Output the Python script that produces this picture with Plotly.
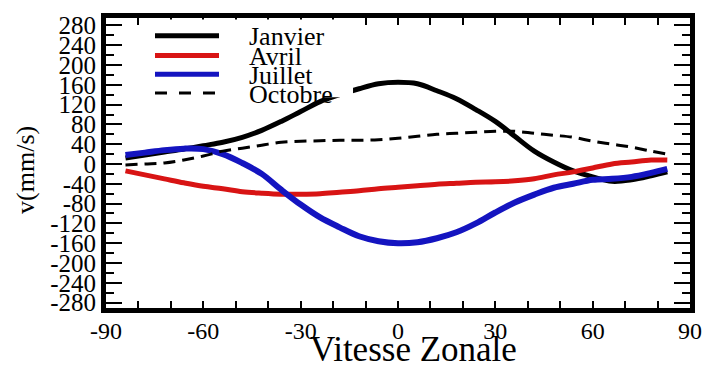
import plotly.graph_objects as go

# ---- data ----
lat = [-84, -78, -72, -66, -60, -54, -48, -42, -36, -30, -24, -18, -12, -6, 0,
       6, 12, 18, 24, 30, 36, 42, 48, 54, 60, 66, 72, 78, 83]

janvier = [12, 18, 24, 30, 37, 44, 54, 68, 86, 106, 126, 140, 152, 162, 165,
           162, 148, 132, 110, 86, 56, 26, 4, -14, -26, -35, -32, -24, -16]

avril = [-14, -22, -30, -38, -45, -50, -56, -59, -61, -61, -60, -57, -54, -50, -47,
         -44, -41, -39, -37, -36, -34, -30, -22, -16, -8, 0, 4, 8, 8]

juillet = [18, 23, 28, 31, 30, 20, 2, -20, -52, -82, -108, -128, -146, -156, -160,
           -158, -150, -138, -120, -98, -78, -62, -48, -40, -32, -30, -26, -18, -10]

octobre = [-2, 0, 2, 8, 16, 26, 32, 38, 44, 46, 47, 48, 48, 49, 52,
           56, 60, 62, 64, 66, 66, 62, 58, 54, 46, 40, 34, 26, 20]

names = ["Janvier", "Avril", "Juillet", "Octobre"]
series = [janvier, avril, juillet, octobre]
colors = ["#000000", "#d81414", "#1414c0", "#000000"]
widths = [5, 5, 6, 3]
dashes = ["solid", "solid", "solid", "12px,7px"]

x_ticks = [-90, -60, -30, 0, 30, 60, 90]
y_ticks = list(range(-280, 281, 40))

FONT = "Liberation Serif"

fig = go.Figure()
for n, s, c, w, d in zip(names, series, colors, widths, dashes):
    fig.add_trace(go.Scatter(x=lat, y=s, name=n, mode="lines",
                             line=dict(color=c, width=w, dash=d, shape="spline", smoothing=1.0),
                             showlegend=False))

# ---- manual legend (Grace-style) ----
shapes = [dict(type="rect", xref="paper", yref="paper", x0=0.058, x1=0.423, y0=0.727, y1=0.995,
               fillcolor="white", line=dict(width=0), layer="above")]
annotations = []
row_y = [0.9388, 0.8707, 0.8061, 0.7415]
for n, c, w, d, yy in zip(names, colors, widths, dashes, row_y):
    shapes.append(dict(type="line", xref="paper", yref="paper", x0=0.0839, x1=0.1935, y0=yy, y1=yy,
                       line=dict(color=c, width=5 if d == "solid" else 3,
                                 dash="solid" if d == "solid" else "12px,12px"),
                       layer="above"))
    annotations.append(dict(text=n, xref="paper", yref="paper", x=0.2414, y=yy - 0.004,
                            xanchor="left", yanchor="middle", showarrow=False,
                            font=dict(family=FONT, size=26, color="black")))

annotations.append(dict(text="Vitesse Zonale", xref="paper", yref="paper", x=0.527, y=-0.143,
                        xanchor="center", yanchor="middle", showarrow=False,
                        font=dict(family=FONT, size=35, color="black")))
annotations.append(dict(text="v(mm/s)", xref="paper", yref="paper", x=-0.137, y=0.476,
                        xanchor="center", yanchor="middle", showarrow=False, textangle=-90,
                        font=dict(family=FONT, size=26, color="black")))

fig.update_layout(
    width=714, height=376,
    margin=dict(l=106, r=24, t=14, b=68),
    paper_bgcolor="white", plot_bgcolor="white",
    shapes=shapes, annotations=annotations,
    font=dict(family=FONT, color="black"),
)
fig.update_xaxes(range=[-90, 90], tickvals=x_ticks, ticktext=[str(v) for v in x_ticks],
                 ticks="inside", ticklen=7, tickwidth=2, tickcolor="black",
                 minor=dict(dtick=10, tick0=0, ticks="inside", ticklen=7, tickwidth=2, tickcolor="black"),
                 showline=True, linewidth=5, linecolor="black", mirror="allticks",
                 showgrid=False, zeroline=False, ticklabelstandoff=-3,
                 tickfont=dict(family=FONT, size=24, color="black"))
fig.update_yaxes(range=[-291, 295], tickvals=y_ticks, ticktext=[str(v) for v in y_ticks],
                 ticks="inside", ticklen=16, tickwidth=2, tickcolor="black",
                 minor=dict(dtick=20, tick0=0, ticks="inside", ticklen=8, tickwidth=2, tickcolor="black"),
                 showline=True, linewidth=5, linecolor="black", mirror="allticks",
                 showgrid=False, zeroline=False,
                 tickfont=dict(family=FONT, size=25, color="black"))

fig.write_html("out.html")
